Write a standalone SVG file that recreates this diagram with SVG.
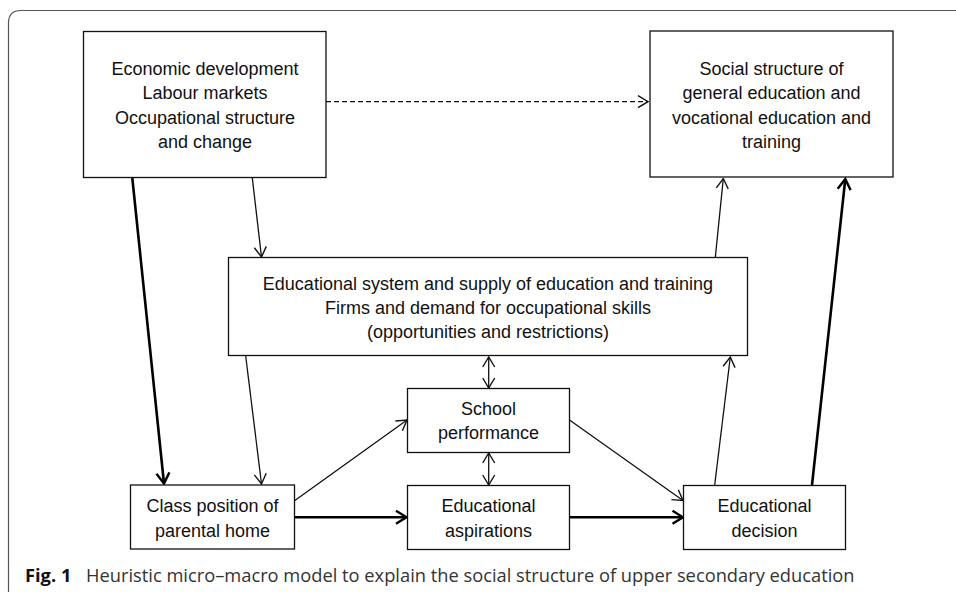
<svg xmlns="http://www.w3.org/2000/svg" width="956" height="592" viewBox="0 0 956 592">
  <style>
    .box { fill: #fff; stroke: #111; stroke-width: 1.3; }
    .t { font-family: "Liberation Sans", Arial, sans-serif; font-size: 18px; fill: #111; text-anchor: middle; }
    .thin { fill: none; stroke: #111; stroke-width: 1.3; }
    .thick { fill: none; stroke: #000; stroke-width: 2.6; }
    .dash { fill: none; stroke: #111; stroke-width: 1.3; stroke-dasharray: 5 3; }
    .cap { font-family: "Open Sans", "Liberation Sans", Arial, sans-serif; font-size: 18.3px; fill: #333; }
  </style>
  <defs>
    <marker id="ah" viewBox="0 0 12 14" refX="11" refY="7" markerWidth="12" markerHeight="14" markerUnits="userSpaceOnUse" orient="auto-start-reverse">
      <path d="M1,1 L11,7 L1,13" fill="none" stroke="#111" stroke-width="1.4"/>
    </marker>
    <marker id="ahk" viewBox="0 0 14 16" refX="12" refY="8" markerWidth="14" markerHeight="16" markerUnits="userSpaceOnUse" orient="auto">
      <path d="M1.5,1.5 L12,8 L1.5,14.5" fill="none" stroke="#000" stroke-width="2.4"/>
    </marker>
  </defs>
  <rect width="956" height="592" fill="#fff"/>
  <path d="M8.5,600 L8.5,23 Q8.5,10.5 21,10.5 L960,10.5" fill="none" stroke="#555" stroke-width="1.2"/>

  <g id="connectors">
    <line class="dash" x1="326" y1="101.7" x2="648" y2="101.7" marker-end="url(#ah)"/>
    <line class="thin" x1="252.3" y1="178" x2="261.5" y2="257" marker-end="url(#ah)"/>
    <line class="thick" x1="132.3" y1="178" x2="164" y2="483.5" marker-end="url(#ahk)"/>
    <line class="thin" x1="245.7" y1="356" x2="261.5" y2="484" marker-end="url(#ah)"/>
    <line class="thin" x1="294.5" y1="500.7" x2="407" y2="420" marker-end="url(#ah)"/>
    <line class="thick" x1="294.5" y1="517.3" x2="406.5" y2="517.3" marker-end="url(#ahk)"/>
    <line class="thick" x1="569.5" y1="517.3" x2="683" y2="517.3" marker-end="url(#ahk)"/>
    <line class="thin" x1="569.5" y1="420" x2="683" y2="500.5" marker-end="url(#ah)"/>
    <line class="thin" x1="488.7" y1="357" x2="488.7" y2="388" marker-start="url(#ah)" marker-end="url(#ah)"/>
    <line class="thin" x1="488.7" y1="453" x2="488.7" y2="485" marker-start="url(#ah)" marker-end="url(#ah)"/>
    <line class="thin" x1="714.7" y1="485" x2="730.3" y2="357" marker-end="url(#ah)"/>
    <line class="thick" x1="812" y1="485" x2="845.3" y2="179" marker-end="url(#ahk)"/>
    <line class="thin" x1="715.3" y1="257.5" x2="723.3" y2="178.5" marker-end="url(#ah)"/>
  </g>

  <g id="economic">
    <rect class="box" x="83.5" y="31.5" width="242.5" height="146"/>
    <text class="t" x="205" y="75">Economic development</text>
    <text class="t" x="205" y="99">Labour markets</text>
    <text class="t" x="205" y="123.7">Occupational structure</text>
    <text class="t" x="205" y="147.5">and change</text>
  </g>
  <g id="social">
    <rect class="box" x="650" y="31" width="243" height="146"/>
    <text class="t" x="771.5" y="75">Social structure of</text>
    <text class="t" x="771.5" y="99">general education and</text>
    <text class="t" x="771.5" y="123.7">vocational education and</text>
    <text class="t" x="771.5" y="147.5">training</text>
  </g>
  <g id="system">
    <rect class="box" x="228.5" y="257.5" width="519" height="98"/>
    <text class="t" x="488" y="290">Educational system and supply of education and training</text>
    <text class="t" x="488" y="314">Firms and demand for occupational skills</text>
    <text class="t" x="488" y="338.3">(opportunities and restrictions)</text>
  </g>
  <g id="class">
    <rect class="box" x="130.5" y="485" width="164" height="64"/>
    <text class="t" x="212.5" y="511.7">Class position of</text>
    <text class="t" x="212.5" y="536.7">parental home</text>
  </g>
  <g id="school">
    <rect class="box" x="407.5" y="388.5" width="162" height="64"/>
    <text class="t" x="488.5" y="415">School</text>
    <text class="t" x="488.5" y="439.3">performance</text>
  </g>
  <g id="aspirations">
    <rect class="box" x="407.5" y="485.5" width="162" height="64"/>
    <text class="t" x="488.5" y="511.7">Educational</text>
    <text class="t" x="488.5" y="536.7">aspirations</text>
  </g>
  <g id="decision">
    <rect class="box" x="683.5" y="485.5" width="162" height="64"/>
    <text class="t" x="764.5" y="511.7">Educational</text>
    <text class="t" x="764.5" y="536.7">decision</text>
  </g>
  <g id="caption">
    <text class="cap" x="25" y="581.5"><tspan font-weight="bold" fill="#111">Fig. 1</tspan><tspan x="86">Heuristic micro–macro model to explain the social structure of upper secondary education</tspan></text>
  </g>
</svg>
